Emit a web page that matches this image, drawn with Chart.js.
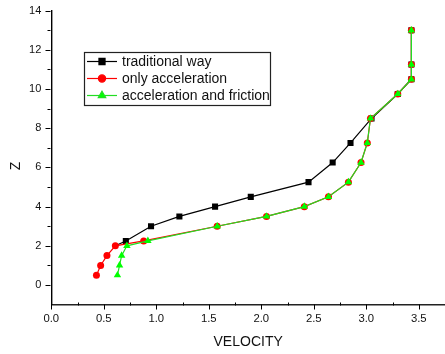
<!DOCTYPE html>
<html><head><meta charset="utf-8">
<script src="https://cdn.jsdelivr.net/npm/chart.js@4"></script>
<style>html,body{margin:0;padding:0;background:#fff}</style>
</head><body>
<canvas id="c" width="445" height="354"></canvas>
<script>
const seriesNames = ['traditional way', 'only acceleration', 'acceleration and friction'];
const traditionalVelocity = [0.61, 0.71, 0.95, 1.22, 1.56, 1.90, 2.45, 2.68, 2.85, 3.05, 3.30, 3.43, 3.43, 3.43];
const traditionalZ        = [2.0, 2.25, 3.0, 3.5, 4.0, 4.5, 5.25, 6.25, 7.25, 8.5, 9.75, 10.5, 11.25, 13.0];
const accelVelocity = [0.43, 0.47, 0.53, 0.61, 0.88, 1.58, 2.05, 2.41, 2.64, 2.83, 2.95, 3.01, 3.04, 3.30, 3.43, 3.43, 3.43];
const accelZ        = [0.5, 1.0, 1.5, 2.0, 2.25, 3.0, 3.5, 4.0, 4.5, 5.25, 6.25, 7.25, 8.5, 9.75, 10.5, 11.25, 13.0];
const frictionVelocity = [0.63, 0.65, 0.67, 0.72, 0.92, 1.58, 2.05, 2.41, 2.64, 2.83, 2.95, 3.01, 3.04, 3.30, 3.43, 3.43, 3.43];
const frictionZ        = [0.5, 1.0, 1.5, 2.0, 2.25, 3.0, 3.5, 4.0, 4.5, 5.25, 6.25, 7.25, 8.5, 9.75, 10.5, 11.25, 13.0];
const xTickLabels = ['0.0', '0.5', '1.0', '1.5', '2.0', '2.5', '3.0', '3.5'];
const yTickLabels = ['0', '2', '4', '6', '8', '10', '12', '14'];
const xTitle = 'VELOCITY';
const yTitle = 'Z';

const toPts = (xs, ys) => xs.map((v, i) => ({x: v, y: ys[i]}));
const FONT = "'Liberation Sans', Arial, sans-serif";

const deco = {
  id: 'deco',
  afterDraw(chart) {
    const ctx = chart.ctx, xs = chart.scales.x, ys = chart.scales.y, ca = chart.chartArea;
    ctx.save();
    ctx.strokeStyle = '#000';
    ctx.lineWidth = 1;
    // x ticks
    const xa = Math.round(ca.bottom) + 0.5;
    for (let v = 0; v <= 3.75 + 1e-9; v += 0.25) {
      const px = Math.round(xs.getPixelForValue(v)) + 0.5;
      const major = Math.abs(v / 0.5 - Math.round(v / 0.5)) < 1e-6;
      ctx.beginPath();
      if (major) { ctx.moveTo(px, xa - 1); ctx.lineTo(px, xa + 4); }
      else { ctx.moveTo(px, xa - 3); ctx.lineTo(px, xa); }
      ctx.stroke();
    }
    // y ticks
    const ya = Math.round(ca.left) - 0.5;
    for (let v = 0; v <= 14; v += 1) {
      const py = Math.round(ys.getPixelForValue(v)) + 0.5;
      const major = v % 2 === 0;
      ctx.beginPath();
      ctx.moveTo(ya, py); ctx.lineTo(ya - (major ? 5 : 3), py);
      ctx.stroke();
    }
    // titles
    ctx.fillStyle = '#111';
    ctx.font = '14px ' + FONT;
    ctx.textAlign = 'center';
    ctx.textBaseline = 'alphabetic';
    ctx.fillText(xTitle, (ca.left + ca.right) / 2, 346);
    ctx.save();
    ctx.translate(19.5, ys.getPixelForValue(6) - 1.5);
    ctx.rotate(-Math.PI / 2);
    ctx.fillText(yTitle, 0, 0);
    ctx.restore();
    // legend
    const bx = 84, by = 52, bw = 186, bh = 53;
    ctx.fillStyle = '#fff';
    ctx.fillRect(bx, by, bw, bh);
    ctx.strokeStyle = '#222';
    ctx.lineWidth = 1.2;
    ctx.strokeRect(bx + 0.5, by + 0.5, bw, bh);
    const rowY = [61.5, 78.5, 95.5];
    ctx.font = '14px ' + FONT;
    ctx.textAlign = 'left';
    ctx.textBaseline = 'middle';
    chart.data.datasets.forEach((ds, i) => {
      const y = rowY[i];
      ctx.strokeStyle = ds.borderColor;
      ctx.lineWidth = 1.2;
      ctx.beginPath(); ctx.moveTo(87, y); ctx.lineTo(117, y); ctx.stroke();
      ctx.fillStyle = ds.backgroundColor;
      ctx.strokeStyle = ds.borderColor;
      Chart.helpers.drawPoint(ctx, {pointStyle: ds.pointStyle, radius: ds.legendRadius, rotation: 0, borderWidth: 1}, 102, y);
      ctx.fillStyle = '#111';
      ctx.fillText(ds.label, 122, y + 1);
    });
    ctx.restore();
  }
};

const zeroPad = s => { s.paddingLeft = 0; s.paddingRight = 0; s.paddingTop = 0; s.paddingBottom = 0; };

new Chart(document.getElementById('c'), {
  type: 'scatter',
  data: {
    datasets: [
      {label: seriesNames[0], data: toPts(traditionalVelocity, traditionalZ), showLine: true,
       borderColor: '#000', backgroundColor: '#000', borderWidth: 1.2, pointStyle: 'rect',
       pointRadius: c => c.dataIndex === 0 ? 0 : 4.3, pointBorderWidth: 0, legendRadius: 4.3, order: 3},
      {label: seriesNames[1], data: toPts(accelVelocity, accelZ), showLine: true,
       borderColor: '#ff0000', backgroundColor: '#ff0000', borderWidth: 1.2, pointStyle: 'circle',
       pointRadius: 3.5, pointBorderWidth: 0, legendRadius: 3.6, order: 2},
      {label: seriesNames[2], data: toPts(frictionVelocity, frictionZ), showLine: true,
       borderColor: '#22dd22', backgroundColor: '#00ff00', borderWidth: 1.2, pointStyle: 'triangle',
       pointRadius: 4.3, pointBorderWidth: 0, legendRadius: 4.3, order: 1}
    ]
  },
  options: {
    responsive: false,
    animation: false,
    devicePixelRatio: 1,
    layout: {autoPadding: false, padding: {top: 10.7, right: 0, left: 0, bottom: 0}},
    plugins: {legend: {display: false}, tooltip: {enabled: false}},
    elements: {line: {tension: 0}},
    scales: {
      x: {
        type: 'linear', min: 0, max: 3.75,
        grid: {display: false, drawTicks: false},
        border: {display: true, color: '#222', width: 1.4},
        ticks: {stepSize: 0.5, includeBounds: false, padding: 8, color: '#111',
                font: {size: 11.3, family: FONT},
                callback: (v) => xTickLabels[Math.round(v / 0.5)] ?? ''},
        afterFit: s => { s.height = 49.4; zeroPad(s); }
      },
      y: {
        type: 'linear', min: -1, max: 14,
        grid: {display: false, drawTicks: false},
        border: {display: true, color: '#000', width: 1.4},
        ticks: {stepSize: 1, includeBounds: false, padding: 10, color: '#111',
                font: {size: 11, family: FONT},
                callback: (v) => (v >= 0 && v % 2 === 0) ? yTickLabels[v / 2] : ''},
        afterFit: s => { s.width = 51.3; zeroPad(s); }
      }
    }
  },
  plugins: [deco]
});
</script>
</body></html>
